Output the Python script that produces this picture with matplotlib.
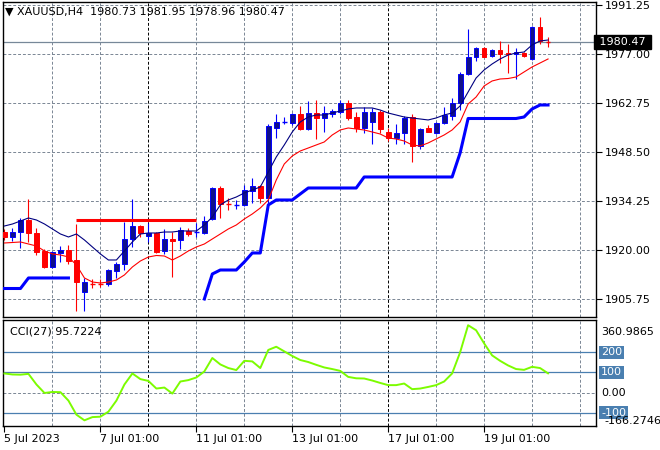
import matplotlib
matplotlib.use('Agg')
import matplotlib.pyplot as plt
import matplotlib.transforms as mtransforms
import numpy as np

# XAUUSD H4 bars, 5 Jul 2023 .. 20 Jul 2023
opens = [1925.23, 1923.78, 1925.32, 1928.72, 1924.94, 1919.71, 1915.06, 1919.13, 1920.00, 1917.09,
         1907.78, 1910.40, 1910.40, 1910.11, 1913.98, 1915.93, 1923.20, 1926.98, 1924.07, 1925.03,
         1919.80, 1923.11, 1922.91, 1925.52, 1924.94, 1925.03, 1928.93, 1938.03, 1933.67, 1932.80,
         1933.09, 1937.16, 1938.61, 1935.21, 1955.57, 1957.08, 1956.85, 1959.46, 1955.10, 1959.75,
         1958.30, 1959.46, 1960.05, 1962.66, 1958.77, 1955.57, 1957.31, 1960.05, 1954.40, 1952.48,
         1953.94, 1958.77, 1950.33, 1955.39, 1954.11, 1956.85, 1958.97, 1962.84, 1971.18, 1976.04,
         1978.66, 1976.42, 1978.16, 1977.38, 1976.91, 1977.38, 1975.46, 1984.94, 1980.73]
highs = [1926.11, 1926.40, 1929.31, 1934.83, 1926.40, 1920.29, 1919.71, 1921.16, 1921.45, 1927.56,
         1911.86, 1911.57, 1911.57, 1914.47, 1916.60, 1928.14, 1934.83, 1927.27, 1927.94, 1925.32,
         1926.02, 1925.32, 1926.78, 1926.48, 1927.94, 1929.89, 1938.23, 1938.61, 1935.12, 1934.54,
         1938.90, 1940.94, 1938.90, 1956.64, 1959.46, 1958.59, 1959.75, 1961.96, 1963.33, 1963.62,
         1961.88, 1961.00, 1963.62, 1963.62, 1960.05, 1961.67, 1961.21, 1960.71, 1955.57, 1956.56,
         1959.06, 1959.46, 1955.57, 1956.35, 1957.31, 1961.67, 1964.12, 1971.85, 1984.18, 1978.95,
         1978.95, 1978.37, 1980.78, 1979.91, 1978.66, 1977.67, 1985.14, 1987.67, 1981.95]
lows = [1922.91, 1922.62, 1920.58, 1922.33, 1918.54, 1914.76, 1914.76, 1916.51, 1915.93, 1902.26,
        1902.26, 1908.95, 1909.24, 1909.53, 1911.86, 1914.18, 1920.87, 1923.78, 1922.41, 1919.04,
        1918.84, 1912.23, 1920.20, 1924.16, 1923.87, 1924.65, 1928.72, 1929.31, 1931.63, 1931.92,
        1932.80, 1933.67, 1933.67, 1933.09, 1952.48, 1956.56, 1956.35, 1954.90, 1954.90, 1952.28,
        1954.32, 1958.77, 1959.46, 1957.81, 1954.23, 1953.94, 1950.74, 1953.94, 1951.70, 1950.74,
        1950.74, 1945.50, 1949.37, 1954.32, 1953.65, 1956.56, 1957.81, 1960.71, 1970.89, 1975.05,
        1976.04, 1976.04, 1974.30, 1971.39, 1969.64, 1976.21, 1975.25, 1979.91, 1978.96]
closes = [1923.78, 1925.23, 1928.72, 1924.94, 1919.42, 1915.06, 1919.27, 1919.85, 1916.80, 1910.69,
          1910.69, 1910.25, 1910.25, 1914.18, 1915.93, 1923.20, 1926.98, 1925.03, 1925.03, 1919.50,
          1923.11, 1922.62, 1925.82, 1924.65, 1925.09, 1928.52, 1937.94, 1933.38, 1933.38, 1933.09,
          1937.45, 1938.61, 1935.21, 1956.06, 1957.14, 1957.22, 1959.46, 1955.10, 1959.75, 1958.30,
          1959.75, 1960.42, 1962.66, 1958.47, 1955.57, 1960.05, 1960.05, 1955.10, 1952.48, 1953.94,
          1958.47, 1950.33, 1955.10, 1954.40, 1956.85, 1959.26, 1962.84, 1971.18, 1976.04, 1978.66,
          1976.21, 1978.16, 1976.91, 1976.91, 1977.58, 1976.42, 1984.94, 1980.70, 1980.47]

ma_fast = [1926.98, 1927.56, 1928.43, 1929.31, 1928.72, 1927.56, 1926.11, 1924.65, 1923.78, 1924.65,
           1922.91, 1920.87, 1918.84, 1917.09, 1917.09, 1919.71, 1922.33, 1924.65, 1924.94, 1924.94,
           1925.23, 1925.23, 1925.53, 1925.53, 1925.53, 1927.27, 1929.60, 1933.09, 1934.54, 1935.41,
           1936.58, 1937.45, 1938.32, 1942.68, 1947.05, 1950.54, 1954.32, 1957.22, 1958.68, 1959.26,
           1959.26, 1959.84, 1960.42, 1961.01, 1961.30, 1961.30, 1961.30, 1960.71, 1959.84, 1959.26,
           1958.68, 1958.39, 1958.10, 1957.81, 1958.39, 1959.26, 1959.84, 1961.88, 1965.95, 1970.02,
           1972.35, 1974.09, 1975.55, 1976.71, 1977.29, 1977.58, 1979.62, 1980.78, 1981.07]
ma_slow = [1922.04, 1922.18, 1922.33, 1921.74, 1921.16, 1919.71, 1918.84, 1918.55, 1917.96, 1915.64,
           1911.86, 1910.69, 1910.40, 1910.69, 1911.27, 1912.73, 1915.06, 1916.80, 1917.96, 1918.40,
           1918.25, 1917.09, 1918.25, 1919.71, 1920.87, 1921.74, 1923.20, 1924.65, 1926.11, 1927.27,
           1929.01, 1930.47, 1932.21, 1934.54, 1940.36, 1945.01, 1947.34, 1948.79, 1949.66, 1950.54,
           1951.41, 1953.44, 1954.90, 1955.48, 1955.19, 1954.90, 1954.32, 1953.73, 1952.57, 1952.28,
           1951.70, 1950.54, 1950.24, 1951.12, 1952.28, 1953.44, 1954.90, 1957.22, 1962.46, 1964.49,
           1967.69, 1969.15, 1969.73, 1969.87, 1970.31, 1971.77, 1973.22, 1974.38, 1975.55]
nan = float('nan')
stop_line = ([1908.80] * 3 + [1911.86] * 6 + [nan] * 16 +
             [1905.75, 1913.02, 1914.18, 1914.18, 1914.18, 1916.51, 1919.13, 1919.13, 1933.09,
              1934.54, 1934.54, 1934.54, 1936.29] + [1938.03] * 7 + [1941.23] * 12 +
             [1948.21] + [1958.24] * 7 + [1958.68, 1961.01, 1962.17, 1962.17])
level_price = 1928.81
level_from, level_to = 9, 24

cci = [95, 90, 89, 93, 40, -2, 3, 2, -40, -110, -138, -122, -120, -95, -40, 40, 95, 67, 58, 20,
       25, -5, 55, 62, 75, 105, 172, 140, 122, 112, 158, 155, 122, 212, 228, 205, 182, 162, 152, 138,
       125, 117, 108, 78, 71, 70, 60, 48, 37, 37, 45, 17, 20, 28, 37, 55, 95, 200, 335, 310,
       245, 185, 158, 135, 117, 113, 128, 122, 95.72]

price_ticks = [1905.75, 1920.00, 1934.25, 1948.50, 1962.75, 1977.00, 1991.25]
date_ticks = [0, 12, 24, 36, 48, 60]
date_labels = ['5 Jul 2023', '7 Jul 01:00', '11 Jul 01:00', '13 Jul 01:00', '17 Jul 01:00', '19 Jul 01:00']
week_starts = [18, 48]
last_price = 1980.47

grid_c = '#7a8694'
dash = (0, (3, 2))
plt.rcParams['font.family'] = ['DejaVu Sans']

fig = plt.figure(figsize=(6.6, 4.5), dpi=100)
ax = fig.add_axes([2.5 / 660, 133 / 450, 593.5 / 660, 315 / 450])
axc = fig.add_axes([2.5 / 660, 24 / 450, 593.5 / 660, 106 / 450])

n = len(closes)
x = np.arange(n)
xmin, xmax = -0.25, 74.0

# grids
for a in (ax, axc):
    for b in range(6, 75, 6):
        a.axvline(b, color='black' if b in week_starts else grid_c, lw=0.7, ls=dash, zorder=0)
for p in price_ticks:
    ax.axhline(p, color=grid_c, lw=0.7, ls=dash, zorder=0)

# candles
bw = 0.6
for i in range(n):
    o, h, l, c = opens[i], highs[i], lows[i], closes[i]
    bull = c >= o
    col = '#0000ff' if bull else '#ff0000'
    ax.vlines(i, l, h, color=col, lw=0.8, zorder=2)
    if abs(c - o) < 0.35:
        ax.hlines(c, i - bw / 2, i + bw / 2, color=col, lw=1.0, zorder=3)
    elif bull:
        ax.bar(i, c - o, bottom=o, width=bw, color='#10108a', edgecolor='#0000ff', lw=0.7, zorder=3)
    else:
        ax.bar(i, o - c, bottom=c, width=bw, color='#ff0000', edgecolor='#ff0000', lw=0.7, zorder=3)

ax.plot(x, ma_fast, color='#000080', lw=0.8, zorder=4)
ax.plot(x, ma_slow, color='#ff0000', lw=0.8, zorder=4)
ax.plot(x, stop_line, color='#0000ff', lw=2.2, zorder=4)
ax.hlines(level_price, level_from, level_to, color='#ff0000', lw=2.2, zorder=4)
ax.axhline(last_price, color='#778899', lw=0.9, zorder=1)

ax.set_xlim(xmin, xmax)
ax.set_ylim(1900.51, 1992.12)
ax.set_xticks([])
ax.yaxis.tick_right()
ax.set_yticks(price_ticks)
ax.set_yticklabels(['%.2f' % p for p in price_ticks])
ax.tick_params(axis='y', length=4, pad=2, labelsize=8, width=0.8)
ax.text(1.0, last_price, ' 1980.47 ', transform=mtransforms.blended_transform_factory(ax.transAxes, ax.transData),
        fontsize=8, color='white', va='center', ha='left',
        bbox=dict(boxstyle='square,pad=0.15', fc='black', ec='black'), zorder=10, clip_on=False)
ax.text(0.004, 0.968, '\u25bc XAUUSD,H4  1980.73 1981.95 1978.96 1980.47', transform=ax.transAxes,
        fontsize=8, va='center', ha='left', color='black')

# CCI panel
lvl_c = '#4a7fb0'
for lv in (200, 100, -100):
    axc.axhline(lv, color=lvl_c, lw=0.9, zorder=1)
axc.axhline(0, color=grid_c, lw=0.7, ls=dash, zorder=0)
axc.plot(x, cci, color='#7cfc00', lw=1.4, zorder=3)
axc.set_xlim(xmin, xmax)
axc.set_ylim(-166.2746, 360.9865)
axc.set_yticks([])
axc.set_xticks(date_ticks)
axc.set_xticklabels(date_labels, ha='left', fontsize=8)
axc.tick_params(axis='x', length=4, pad=2, width=0.8)
bt = mtransforms.blended_transform_factory(axc.transAxes, axc.transData)
tx = 1.0 + 5 / 593.5
axc.text(tx, 0.887, '360.9865', transform=axc.transAxes, fontsize=8, va='center', ha='left', clip_on=False)
for lv in (200, 100, -100):
    axc.text(tx, lv, str(lv), transform=bt, fontsize=8, va='center', ha='left', color='white',
             bbox=dict(boxstyle='square,pad=0.15', fc=lvl_c, ec='none'), clip_on=False)
axc.text(tx, 0, '0.00', transform=bt, fontsize=8, va='center', ha='left', clip_on=False)
axc.text(tx + 3 / 593.5, 0.045, '-166.2746', transform=axc.transAxes, fontsize=8, va='center', ha='left',
         clip_on=False, zorder=12)
axc.text(7 / 593.5, 0.887, 'CCI(27) 95.7224', transform=axc.transAxes, fontsize=8, va='center', ha='left')

for a in (ax, axc):
    for s in a.spines.values():
        s.set_color('black')
        s.set_linewidth(1)

fig.savefig('out.png', dpi=100, facecolor='white')
